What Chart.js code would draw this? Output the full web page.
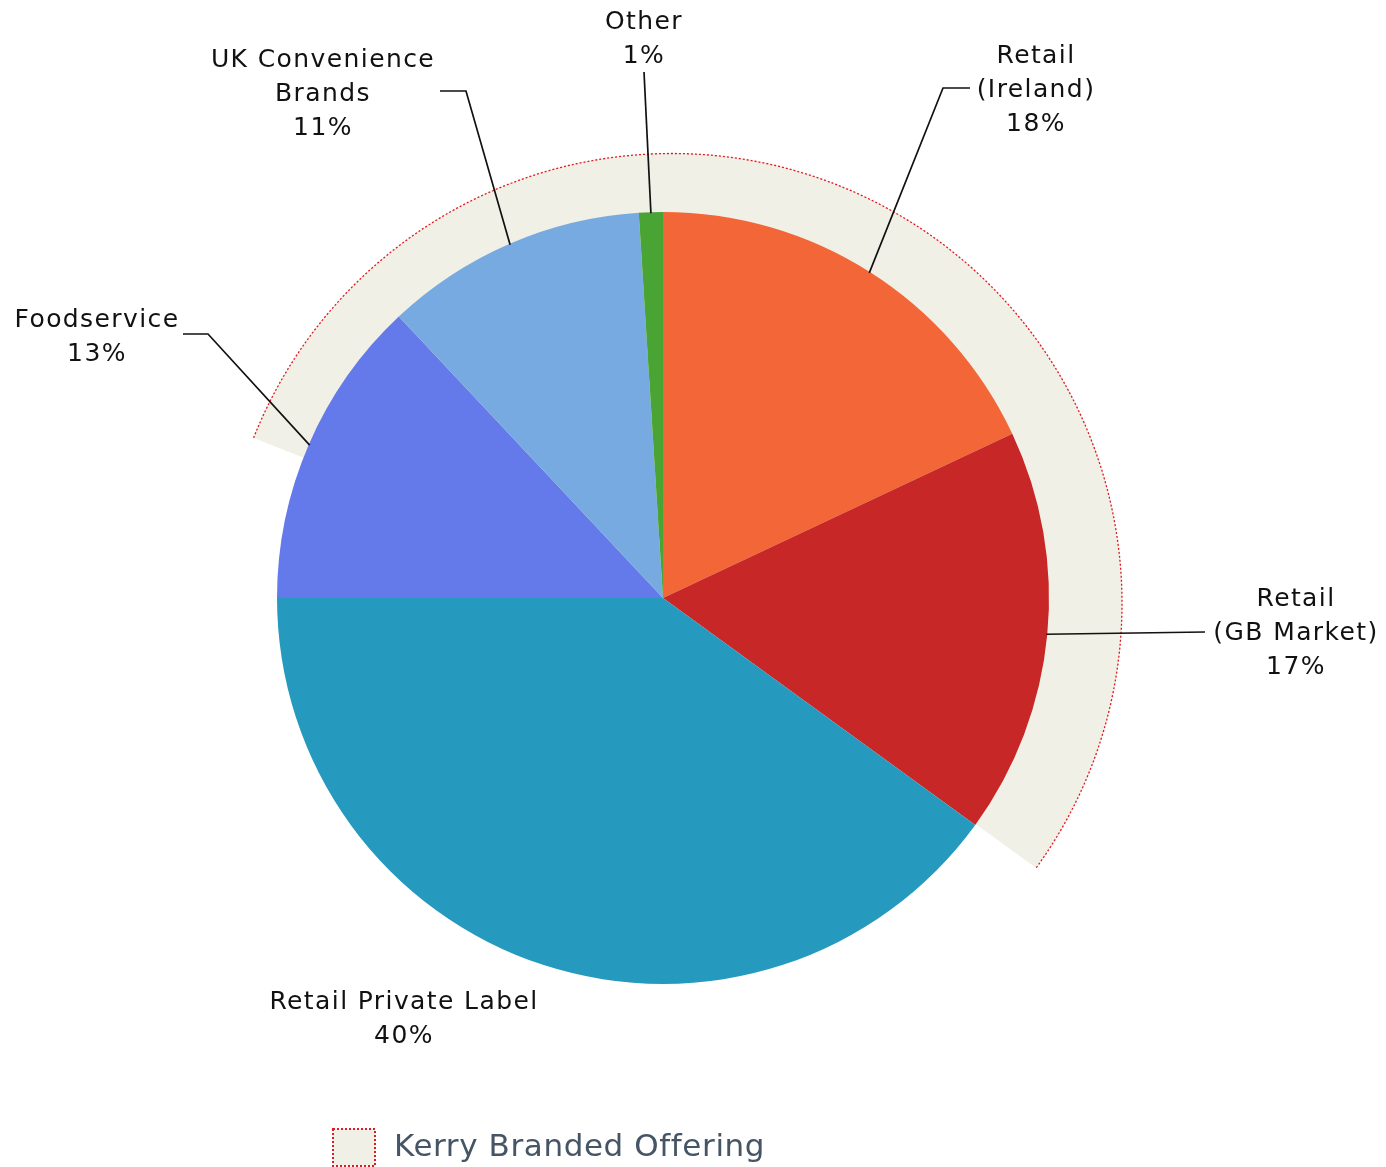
<!DOCTYPE html>
<html>
<head>
<meta charset="utf-8">
<script src="https://cdn.jsdelivr.net/npm/chart.js@4/dist/chart.umd.min.js"></script>
<style>
  html, body { margin: 0; padding: 0; background: #fff; }
  #wrap { width: 1386px; height: 1167px; position: relative; }
  #wrap canvas { position: absolute; left: 0; top: 0; }
</style>
</head>
<body>
<div id="wrap">
  <canvas id="brandedBand" width="1386" height="1167"></canvas>
  <canvas id="salesMix" width="1386" height="1167"></canvas>
</div>
<script>
/* ---------- data ---------- */
const segments = ["Retail\n(Ireland)", "Retail\n(GB Market)", "Retail Private Label", "Foodservice", "UK Convenience\nBrands", "Other"];
const shares = [18, 17, 40, 13, 11, 1];
const segmentColors = ["#f26637", "#c82727", "#269abe", "#6479ea", "#77aae1", "#4aa433"];

// outer band: branded share, remainder, and where it starts (in % of the circle)
const brandedLabel = "Kerry Branded Offering";
const brandedBand = [54, 46];
const brandedStart = 81;

/* ---------- label placement (text centre / first line, leader elbow) ---------- */
const labelLayout = [
  { x: 1035, y: 56, elbow: [943, 88], end: 970 },
  { x: 1295, y: 599, elbow: [1205, 632], end: 1205 },
  { x: 403, y: 1002 },
  { x: 96, y: 320, elbow: [208, 334], end: 183 },
  { x: 322, y: 60, elbow: [466, 91], end: 440 },
  { x: 643, y: 22, elbow: [644, 72], end: 644 },
];

const FONT = "'DejaVu Sans', Verdana, sans-serif";
const BEIGE = "#f1f0e6";
const DOT_RED = "#e01a22";

/* ---------- Plugin: dotted edge on the branded band ---------- */
const bandEdge = {
  id: "bandEdge",
  afterDatasetsDraw(chart) {
    const arc = chart.getDatasetMeta(0).data[0];
    if (!arc) return;
    const { x, y, startAngle, endAngle, outerRadius } = arc.getProps(["x", "y", "startAngle", "endAngle", "outerRadius"], true);
    const ctx = chart.ctx;
    ctx.save();
    ctx.strokeStyle = DOT_RED;
    ctx.lineWidth = 1.3;
    ctx.setLineDash([2, 2]);
    ctx.beginPath();
    ctx.arc(x, y, outerRadius - 0.5, startAngle, endAngle);
    ctx.stroke();
    ctx.restore();
  },
};

/* ---------- Plugin: legend for the branded band ---------- */
const bandLegend = {
  id: "bandLegend",
  afterDraw(chart) {
    const ds = chart.data.datasets[0];
    const ctx = chart.ctx;
    const bx = 333, by = 1129, bw = 42, bh = 37;
    ctx.save();
    ctx.fillStyle = ds.backgroundColor[0];
    ctx.fillRect(bx, by, bw, bh);
    ctx.strokeStyle = DOT_RED;
    ctx.lineWidth = 2;
    ctx.setLineDash([2, 2]);
    ctx.strokeRect(bx, by, bw, bh);
    ctx.setLineDash([]);
    ctx.font = `31px ${FONT}`;
    ctx.letterSpacing = "0.6px";
    ctx.fillStyle = "#465566";
    ctx.textAlign = "left";
    ctx.textBaseline = "middle";
    ctx.fillText(ds.label, 394, 1148);
    ctx.restore();
  },
};

/* ---------- Plugin: slice labels with leader lines ---------- */
const sliceLabels = {
  id: "sliceLabels",
  afterDraw(chart) {
    const ctx = chart.ctx;
    const meta = chart.getDatasetMeta(0);
    ctx.save();
    ctx.font = `25px ${FONT}`;
    ctx.letterSpacing = "1.4px";
    ctx.fillStyle = "#111";
    ctx.textAlign = "center";
    ctx.textBaseline = "middle";
    meta.data.forEach((arc, i) => {
      const lay = labelLayout[i];
      const lines = segments[i].split("\n").concat([shares[i] + "%"]);
      lines.forEach((ln, k) => ctx.fillText(ln, lay.x + 1, lay.y + k * 34));

      if (!lay.elbow) return;
      const { x, y, startAngle, endAngle, outerRadius } = arc.getProps(["x", "y", "startAngle", "endAngle", "outerRadius"], true);
      const mid = (startAngle + endAngle) / 2;
      const sx = x + Math.cos(mid) * (outerRadius - 1);
      const sy = y + Math.sin(mid) * (outerRadius - 1);
      ctx.strokeStyle = "#111";
      ctx.lineWidth = 1.7;
      ctx.beginPath();
      ctx.moveTo(sx, sy);
      ctx.lineTo(lay.elbow[0], lay.elbow[1]);
      ctx.lineTo(lay.end, lay.elbow[1]);
      ctx.stroke();
    });
    ctx.restore();
  },
};

const staticOpts = {
  responsive: false,
  animation: false,
  events: [],
};

/* ---------- Chart: branded band (behind) ---------- */
new Chart(document.getElementById("brandedBand").getContext("2d"), {
  type: "pie",
  data: {
    labels: ["Branded", "Rest"],
    datasets: [
      {
        label: brandedLabel,
        data: brandedBand,
        backgroundColor: [BEIGE, "rgba(0,0,0,0)"],
        borderWidth: 0,
        rotation: brandedStart * 3.6,
      },
    ],
  },
  options: {
    ...staticOpts,
    layout: { padding: { top: 153, left: 221, right: 263, bottom: 113 } },
    plugins: { legend: { display: false }, tooltip: { enabled: false } },
  },
  plugins: [bandEdge, bandLegend],
});

/* ---------- Chart: sales mix pie (front) ---------- */
new Chart(document.getElementById("salesMix").getContext("2d"), {
  type: "pie",
  data: {
    labels: segments,
    datasets: [
      {
        label: "Share",
        data: shares,
        backgroundColor: segmentColors,
        borderWidth: 0,
      },
    ],
  },
  options: {
    ...staticOpts,
    layout: { padding: { top: 212, left: 277, right: 337, bottom: 183 } },
    plugins: { legend: { display: false }, tooltip: { enabled: false } },
  },
  plugins: [sliceLabels],
});
</script>
</body>
</html>
